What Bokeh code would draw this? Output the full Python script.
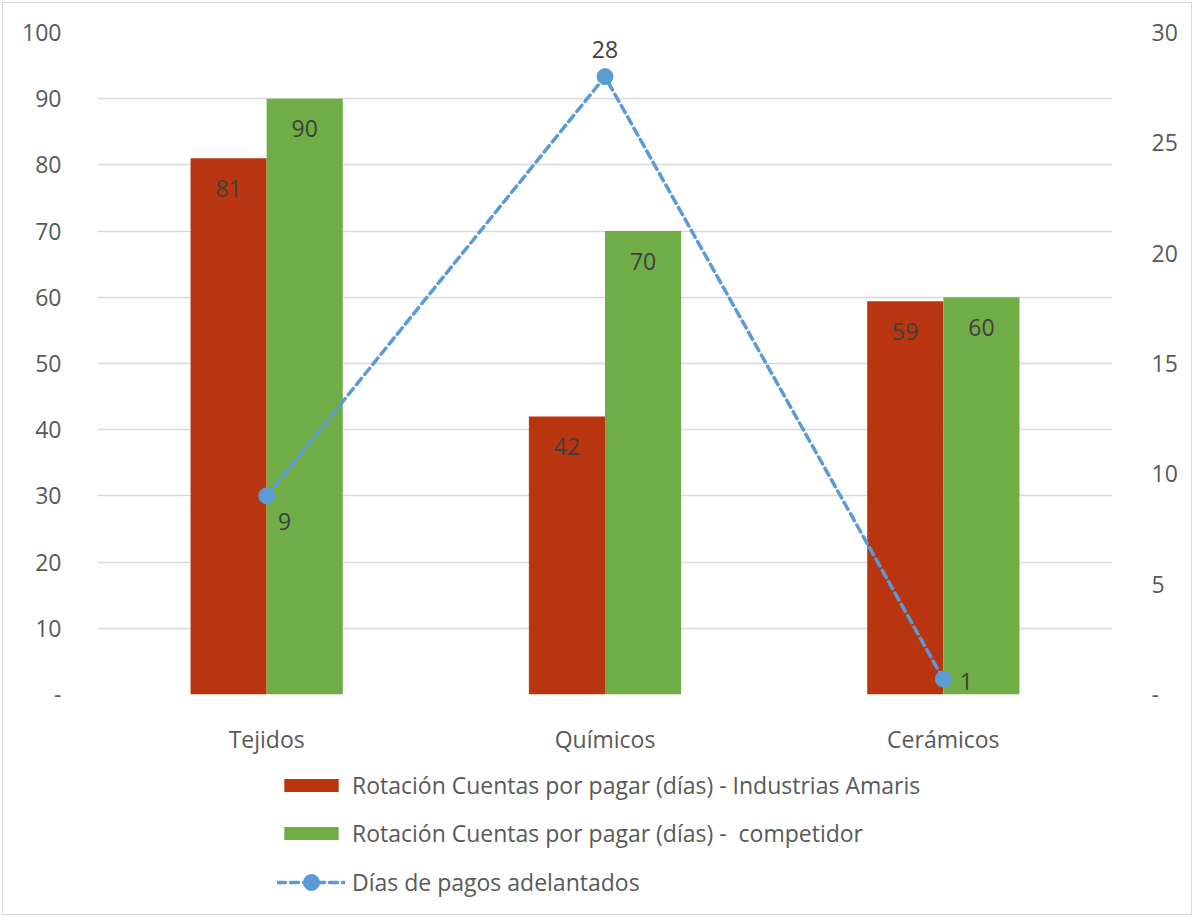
from bokeh.plotting import figure
from bokeh.layouts import column
from bokeh.models import (Range1d, LinearAxis, ColumnDataSource, FactorRange, Legend,
                          LegendItem, FixedTicker, CustomJSTickFormatter)
from bokeh.transform import dodge
from bokeh.core.properties import value
from bokeh.embed import file_html
from bokeh.resources import INLINE

categories = ["Tejidos", "Químicos", "Cerámicos"]
amaris = [81, 42, 59.4]
competidor = [90, 70, 60]
dias = [9, 28, 0.7]
left_ticks = [0, 10, 20, 30, 40, 50, 60, 70, 80, 90, 100]
right_ticks = [0, 5, 10, 15, 20, 25, 30]
series_names = ["Rotación Cuentas por pagar (días) - Industrias Amaris",
                "Rotación Cuentas por pagar (días) -  competidor",
                "Días de pagos adelantados"]

FONT = "Open Sans"
FS = "23px"
RED = "#B9350F"
GREEN = "#70AD47"
BLUE = "#5B9BD5"
GRID = "#D9D9D9"
TXT = "#595959"
LBL = "#404040"

src = ColumnDataSource(dict(
    cat=categories, amaris=amaris, competidor=competidor, dias=dias,
    amaris_lbl=[f"{v:.0f}" for v in amaris],
    comp_lbl=[f"{v:.0f}" for v in competidor],
    dias_lbl=[f"{v:.0f}" for v in dias],
    dx=[18, 0, 23], dy=[26, -27, 2],
))

W = 1188
p = figure(x_range=FactorRange(*categories), y_range=Range1d(0, 100),
           width=W, height=757, output_backend="svg", toolbar_location=None,
           min_border_left=94, min_border_right=79, min_border_top=29, min_border_bottom=66)
p.outline_line_color = None
p.background_fill_color = "white"
p.border_fill_color = "white"

p.extra_y_ranges = {"right": Range1d(0, 30)}

bw = 0.225
line_style = dict(line_color=BLUE, line_width=3.5, line_dash="8 5", line_cap="round")
marker_style = dict(size=16, fill_color=BLUE, line_color=BLUE)

p.vbar(x=dodge("cat", -bw / 2, range=p.x_range), top="amaris", width=bw, source=src,
       fill_color=RED, line_color=None)
p.vbar(x=dodge("cat", bw / 2, range=p.x_range), top="competidor", width=bw, source=src,
       fill_color=GREEN, line_color=None)
p.line(x="cat", y="dias", source=src, y_range_name="right", **line_style)
p.scatter(x="cat", y="dias", source=src, y_range_name="right", **marker_style)

common = dict(text_font=value(FONT), text_font_size=FS, text_color=LBL,
              text_align="center", text_baseline="middle", source=src)
p.text(x=dodge("cat", -bw / 2, range=p.x_range), y="amaris", text="amaris_lbl", y_offset=30, **common)
p.text(x=dodge("cat", bw / 2, range=p.x_range), y="competidor", text="comp_lbl", y_offset=30, **common)
p.text(x="cat", y="dias", text="dias_lbl", x_offset="dx", y_offset="dy",
       y_range_name="right", **common)

fmt = CustomJSTickFormatter(code="return tick == 0 ? '-' : tick.toString();")

p.yaxis.ticker = FixedTicker(ticks=left_ticks)
p.yaxis.formatter = fmt
ax_r = LinearAxis(y_range_name="right", ticker=FixedTicker(ticks=right_ticks), formatter=fmt)
p.add_layout(ax_r, "right")

for ax in [p.yaxis[0], ax_r, p.xaxis[0]]:
    ax.axis_line_color = None
    ax.major_tick_line_color = None
    ax.minor_tick_line_color = None
    ax.major_label_text_font = FONT
    ax.major_label_text_font_size = FS
    ax.major_label_text_color = TXT
p.yaxis[0].major_label_standoff = 30
ax_r.major_label_standoff = 33
p.xaxis[0].major_label_standoff = 22

p.xgrid.grid_line_color = None
p.ygrid.grid_line_color = GRID
p.ygrid.grid_line_width = 1.5

# legend figure (its renderers mirror the series styles; their data lie outside the view)
q = figure(x_range=Range1d(0, 1), y_range=Range1d(0, 1), width=W, height=154,
           output_backend="svg", toolbar_location=None, x_axis_type=None, y_axis_type=None,
           min_border_left=0, min_border_right=0, min_border_top=0, min_border_bottom=0)
q.grid.grid_line_color = None
q.outline_line_color = None
q.background_fill_color = "white"
q.border_fill_color = "white"
hidden = ColumnDataSource(dict(x=[-5, -6], y=[-5, -6]))
l1 = q.vbar(x="x", top="y", width=0.1, fill_color=RED, line_color=None, source=hidden)
l2 = q.vbar(x="x", top="y", width=0.1, fill_color=GREEN, line_color=None, source=hidden)
l3 = q.line(x="x", y="y", source=hidden, **line_style)
l4 = q.scatter(x="x", y="y", source=hidden, **marker_style)

leg_style = dict(orientation="vertical", label_text_font=FONT, label_text_font_size=FS,
                 label_text_color=TXT, glyph_width=68, label_standoff=7, label_height=28,
                 spacing=16, border_line_color=None, background_fill_alpha=0,
                 padding=0, margin=0)
legend1 = Legend(items=[LegendItem(label=series_names[0], renderers=[l1]),
                        LegendItem(label=series_names[1], renderers=[l2])],
                 location=(180, 65), glyph_height=16, **leg_style)
legend2 = Legend(items=[LegendItem(label=series_names[2], renderers=[l3, l4])],
                 location=(180, 12), glyph_height=40, **leg_style)
q.add_layout(legend1, "center")
q.add_layout(legend2, "center")

layout = column(p, q, spacing=0)
layout.styles = {"border": "1px solid #D9D9D9", "margin": "2px"}

open("out.html", "w").write(file_html(layout, INLINE))
